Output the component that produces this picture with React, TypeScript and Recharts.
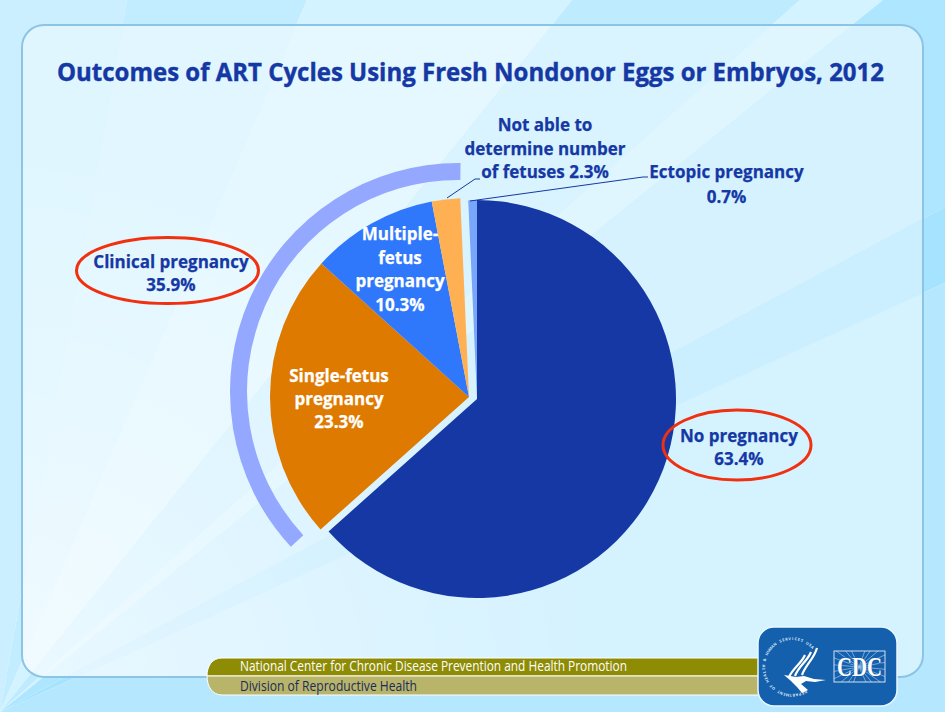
import React from 'react';
import { PieChart, Pie, Cell } from 'recharts';

const WIDTH = 945;
const HEIGHT = 712;

// percentages, clockwise from 12 o'clock
const noPregnancy = 63.4;
const singleFetus = 23.3;
const multipleFetus = 10.3;
const notAble = 2.3;
const ectopic = 0.7;
const clinical = 35.9;

const title = 'Outcomes of ART Cycles Using Fresh Nondonor Eggs or Embryos, 2012';
const footerTop = 'National Center for Chronic Disease Prevention and Health Promotion';
const footerBottom = 'Division of Reproductive Health';
const sealText = 'DEPARTMENT OF HEALTH & HUMAN SERVICES USA';

const NAVY = '#1538A5';
const FONT = "'Open Sans', sans-serif";

// slices that sit on the exploded left side
const leftSlices = [
  { name: 'gap', value: noPregnancy, fill: 'none' },
  { name: 'Single-fetus pregnancy', value: singleFetus, fill: '#DE7A00' },
  { name: 'Multiple-fetus pregnancy', value: multipleFetus, fill: '#2F77FB' },
  { name: 'Not able to determine number of fetuses', value: notAble, fill: '#FFB053' },
  { name: 'gap', value: ectopic, fill: 'none' },
];

const rightSlices = [
  { name: 'No pregnancy', value: noPregnancy, fill: '#1538A5' },
  { name: 'gap', value: singleFetus + multipleFetus + notAble, fill: 'none' },
  { name: 'Ectopic pregnancy', value: ectopic, fill: '#78A6FB' },
];

const clinicalArc = [{ name: 'Clinical pregnancy', value: clinical }];

// background streaks fan out of the bottom-left corner
const streaks = [
  { edge: '0,0 127,0', page: '#CBEFFF', panel: '#DFF6FF' },
  { edge: '127,0 307,0', page: '#C2ECFF', panel: '#E1F6FF' },
  { edge: '307,0 572,0', page: '#D2F3FF', panel: '#E5F8FF' },
  { edge: '572,0 800,0', page: '#BFEBFF', panel: '#D9F3FF' },
  { edge: '800,0 883,0', page: '#D2F3FF', panel: '#E0F6FF' },
  { edge: '883,0 945,0 945,207', page: '#AEE6FF', panel: '#D6F2FF' },
  { edge: '945,207 945,283', page: '#A6E3FF', panel: '#CCEFFF' },
  { edge: '945,283 945,712', page: '#B5E8FF', panel: '#D5F2FF' },
];

const sealRays = [-70, -55, -40, -25, -10, 5, 20, 35, 50, 65, 110, 125, 140, 155, 170, 185, 200, 215, 230, 245];

const Label = ({ x, y, lines, fill = NAVY, gap = 24 }: { x: number; y: number; lines: string[]; fill?: string; gap?: number }) => (
  <g>
    {lines.map((l, i) => (
      <text key={i} x={x} y={y + i * gap} textAnchor="middle" fill={fill} stroke={fill} strokeWidth={0.25} fontSize={17} fontWeight={700} fontFamily={FONT}>{l}</text>
    ))}
  </g>
);

const Background = () => (
  <svg width={WIDTH} height={HEIGHT} style={{ position: 'absolute', left: 0, top: 0 }}>
    <defs>
      <radialGradient id="glow" gradientUnits="userSpaceOnUse" cx={0} cy={712} r={600}>
        <stop offset="0" stopColor="#FFFFFF" stopOpacity={0.5} />
        <stop offset="1" stopColor="#FFFFFF" stopOpacity={0} />
      </radialGradient>
      <clipPath id="panelClip">
        <rect x={22} y={25} width={901} height={652} rx={22} />
      </clipPath>
    </defs>
    {streaks.map((s, i) => <polygon key={i} points={`0,712 ${s.edge}`} fill={s.page} />)}
    <g clipPath="url(#panelClip)">
      {streaks.map((s, i) => <polygon key={i} points={`0,712 ${s.edge}`} fill={s.panel} />)}
      <rect x={22} y={25} width={901} height={652} fill="url(#glow)" />
    </g>
    <rect x={22} y={25} width={901} height={652} rx={22} fill="none" stroke="#8CC4E6" strokeWidth={2} />
  </svg>
);

// seal lettering runs clockwise round the eagle, one rotated glyph at a time
const SealLettering = () => {
  const chars = sealText.split('');
  const start = 151;
  const step = 255 / (chars.length - 1);
  return (
    <g>
      {chars.map((c, i) => (
        <text key={i} x={792} y={667 - 27} textAnchor="middle" fontSize={3.8} fontWeight={700} fill="#DCE9F6" fontFamily={FONT} transform={`rotate(${start + i * step} 792 667)`}>{c}</text>
      ))}
    </g>
  );
};

const Footer = () => (
  <g>
    <path d="M222 658 H790 V676 H207 C207 666 212 658 222 658 Z" fill="#8E8C05" stroke="#fff" strokeWidth={1} />
    <path d="M207 676 H790 V695 H222 C212 695 207 686 207 676 Z" fill="#B8B56B" stroke="#fff" strokeWidth={1} />
    <text x={240} y={671} fontSize={14} fill="#fff" fontFamily={FONT} textLength={387} lengthAdjust="spacingAndGlyphs">{footerTop}</text>
    <text x={240} y={691} fontSize={14} fill="#1B2A5A" fontFamily={FONT} textLength={177} lengthAdjust="spacingAndGlyphs">{footerBottom}</text>

    <rect x={758} y={627} width={139} height={79} rx={16} fill="#1560AD" stroke="#EAF8FF" strokeWidth={1.5} />
    <SealLettering />
    <path d="M817 648 C814 659 806 664 802 675" fill="none" stroke="#fff" strokeWidth={2.2} />
    <path d="M811 652 C807 662 799 665 795 676" fill="none" stroke="#fff" strokeWidth={2.2} />
    <path d="M805 655 C801 664 793 668 789 677" fill="none" stroke="#fff" strokeWidth={2.2} />
    <path d="M784 675 L796 677 L804 676 L814 679 L826 680 L815 682 L806 681 L801 684 L808 690 L802 693 L797 687 L791 681 Z" fill="#fff" />
    {/* CDC box */}
    <clipPath id="cdcBox"><rect x={834} y={651} width={51} height={31} /></clipPath>
    <g clipPath="url(#cdcBox)">
      {sealRays.map((a, i) => (
        <line key={i} x1={859} y1={667} x2={859 + 50 * Math.cos((a * Math.PI) / 180)} y2={667 + 50 * Math.sin((a * Math.PI) / 180)} stroke="#9CC4EA" strokeWidth={0.7} />
      ))}
    </g>
    <rect x={834} y={651} width={51} height={31} fill="none" stroke="#fff" strokeWidth={0.8} />
    <text x={859.5} y={676} textAnchor="middle" fontSize={27} fontWeight={700} fill="#fff" stroke="#1560AD" strokeWidth={1.2} paintOrder="stroke" fontFamily="'Liberation Serif', serif" textLength={45} lengthAdjust="spacingAndGlyphs">CDC</text>
  </g>
);

export default function App() {
  return (
    <div style={{ position: 'absolute', left: 0, top: 0, width: WIDTH, height: HEIGHT, overflow: 'hidden' }}>
      <Background />
      <div style={{ position: 'absolute', left: 0, top: 0 }}>
        <PieChart width={WIDTH} height={HEIGHT} margin={{ top: 0, right: 0, bottom: 0, left: 0 }}>
          <Pie data={clinicalArc} dataKey="value" cx={458.5} cy={391.5} innerRadius={211.5} outerRadius={228.5} startAngle={-137.2} endAngle={-270.5} fill="#94A8FF" stroke="none" isAnimationActive={false} />
          <Pie data={rightSlices} dataKey="value" cx={477} cy={399} innerRadius={0} outerRadius={199} startAngle={90} endAngle={-270} stroke="none" isAnimationActive={false}>
            {rightSlices.map((d, i) => <Cell key={i} fill={d.fill} />)}
          </Pie>
          <Pie data={leftSlices} dataKey="value" cx={469} cy={397} innerRadius={0} outerRadius={199} startAngle={90} endAngle={-270} stroke="none" isAnimationActive={false}>
            {leftSlices.map((d, i) => <Cell key={i} fill={d.fill} />)}
          </Pie>
        </PieChart>
      </div>
      <svg width={WIDTH} height={HEIGHT} style={{ position: 'absolute', left: 0, top: 0 }}>
        <text x={470.5} y={81} textAnchor="middle" fill={NAVY} stroke={NAVY} strokeWidth={0.4} fontSize={25} fontWeight={700} fontFamily={FONT} textLength={827} lengthAdjust="spacingAndGlyphs">{title}</text>
        <ellipse cx={167.5} cy={270.5} rx={91} ry={33} fill="none" stroke="#F0300F" strokeWidth={3} />
        <ellipse cx={737} cy={445} rx={74} ry={35} fill="none" stroke="#F0300F" strokeWidth={3} />
        <Label x={171} y={268} lines={['Clinical pregnancy', `${clinical}%`]} gap={23} />
        <Label x={739} y={442} lines={['No pregnancy', `${noPregnancy}%`]} gap={23} />
        <Label x={339} y={382} lines={['Single-fetus', 'pregnancy', `${singleFetus}%`]} fill="#fff" gap={23} />
        <Label x={400} y={240} lines={['Multiple-', 'fetus', 'pregnancy', `${multipleFetus}%`]} fill="#fff" gap={23.5} />
        <Label x={545} y={131} lines={['Not able to', 'determine number', `of fetuses ${notAble}%`]} gap={23.5} />
        <Label x={726.5} y={178} lines={['Ectopic pregnancy', `${ectopic}%`]} gap={25} />
        <polyline points="447,198 475,179 480,179" fill="none" stroke={NAVY} strokeWidth={1} />
        <polyline points="470,201 643,177 648,177" fill="none" stroke={NAVY} strokeWidth={1} />
        <Footer />
      </svg>
    </div>
  );
}
